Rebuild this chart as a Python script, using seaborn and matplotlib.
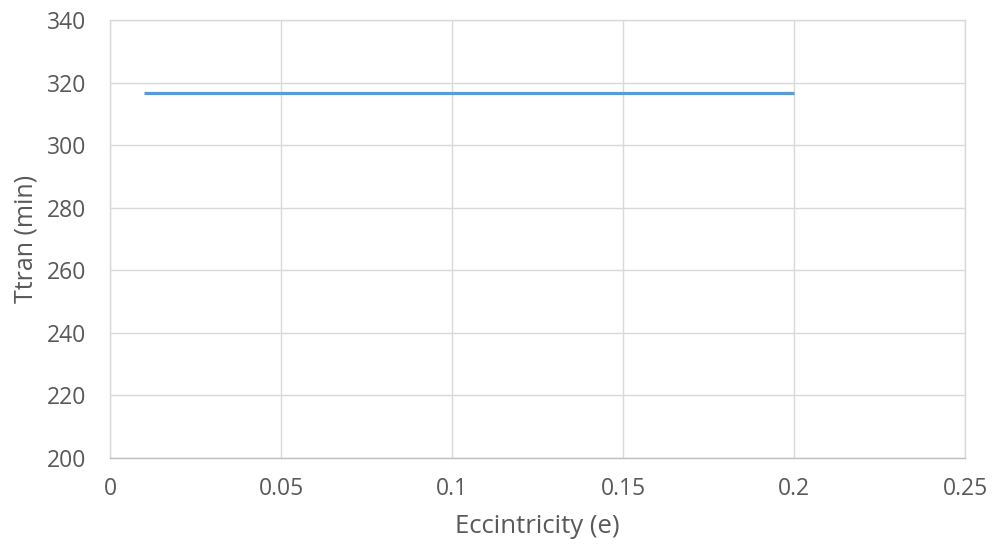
import matplotlib
matplotlib.use("Agg")
import matplotlib.pyplot as plt
import seaborn as sns
import pandas as pd

# Data
eccentricity = [0.01, 0.05, 0.10, 0.15, 0.20]
ttran_min = [316.6, 316.6, 316.6, 316.6, 316.6]

x_ticks = [0, 0.05, 0.1, 0.15, 0.2, 0.25]
x_tick_labels = ["0", "0.05", "0.1", "0.15", "0.2", "0.25"]
y_ticks = [200, 220, 240, 260, 280, 300, 320, 340]

LINE_COLOR = "#5B9BD5"
TEXT_COLOR = "#595959"
GRID_COLOR = "#D9D9D9"

sns.set_style("white")
plt.rcParams["font.family"] = ["Open Sans", "DejaVu Sans"]

df = pd.DataFrame({"e": eccentricity, "ttran": ttran_min})

fig = plt.figure(figsize=(9.92, 5.48), dpi=100)
ax = fig.add_axes([0.1109, 0.1642, 0.8619, 0.7993])

sns.lineplot(data=df, x="e", y="ttran", ax=ax, color=LINE_COLOR,
             linewidth=2.3, solid_capstyle="butt")

ax.set_xlim(0, 0.25)
ax.set_ylim(200, 340)
ax.set_xticks(x_ticks)
ax.set_xticklabels(x_tick_labels)
ax.set_yticks(y_ticks)

ax.grid(True, color=GRID_COLOR, linewidth=1.0)
ax.set_axisbelow(True)
for name, sp in ax.spines.items():
    sp.set_visible(True)
    sp.set_color(GRID_COLOR)
    sp.set_linewidth(1.0)
ax.spines["bottom"].set_color("#BFBFBF")

ax.tick_params(axis="both", length=0, labelsize=16.5, colors=TEXT_COLOR)
ax.tick_params(axis="x", pad=14)
ax.tick_params(axis="y", pad=17)

ax.set_xlabel("Eccintricity (e)", fontsize=18.5, color=TEXT_COLOR, labelpad=9)
ax.set_ylabel("Ttran (min)", fontsize=18, color=TEXT_COLOR, labelpad=6)

fig.savefig("out.png", dpi=100)
plt.close(fig)
